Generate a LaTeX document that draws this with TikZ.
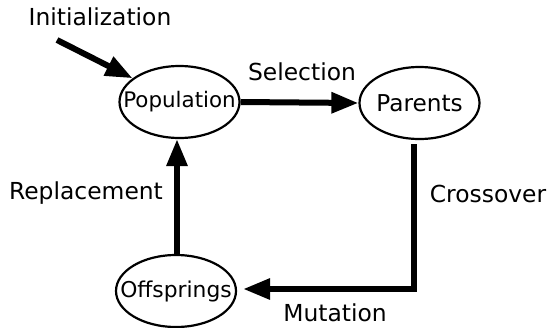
\documentclass[tikz,border=0pt]{standalone}
\usepackage{fontspec}
\setmainfont{DejaVu Sans}
\usetikzlibrary{shapes.geometric,arrows.meta}
\tikzset{
  state/.style={draw, ellipse, line width=2.2pt, minimum width=120pt, minimum height=72pt, inner sep=0pt},
  arr/.style={line width=6pt, -{Triangle[length=27pt,width=20pt]}},
  lbl/.style={font=\fontsize{23.4}{26}\selectfont, inner sep=0pt}
}
\begin{document}
\begin{tikzpicture}[x=1pt,y=-1pt]
\useasboundingbox (0,0) rectangle (549,327);
\node[state, font=\fontsize{21.4}{24}\selectfont] (pop) at (179.5,102) {\makebox[0pt]{Population}};
\node[state, font=\fontsize{23.2}{26}\selectfont] (par) at (419.5,103) {\makebox[0pt]{Parents}};
\node[state, font=\fontsize{21.8}{24}\selectfont] (off) at (176,291) {\makebox[0pt]{Offsprings}};
\coordinate (i0) at (57,40);
\draw[arr] (i0) -- (pop);
\draw[arr] (pop.east) -- (par.west);
\draw[arr] ([xshift=-6pt,yshift=-4pt]par.south) |- ([xshift=6pt,yshift=2pt]off.east);
\draw[arr] ([xshift=1pt]off.north) -- ([xshift=1pt]off.north |- pop.south);
\node[lbl] (tinit) at (100,17) {Initialization};
\node[lbl] (tsel) at (302,72) {Selection};
\node[lbl] (tcross) at (488,194) {Crossover};
\node[lbl] (tmut) at (335,313) {Mutation};
\node[lbl] (trep) at (86,193) {Replacement};
\end{tikzpicture}
\end{document}
